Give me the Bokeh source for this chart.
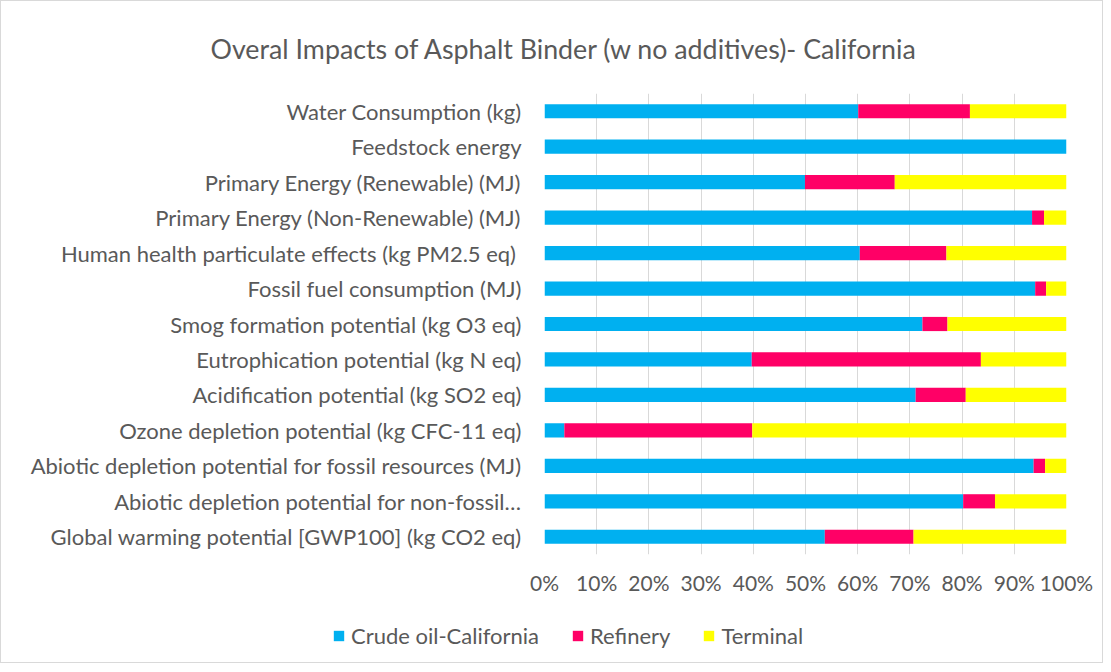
from bokeh.plotting import figure
from bokeh.layouts import column
from bokeh.models import ColumnDataSource, FixedTicker, Legend, LegendItem, Range1d, Title
from bokeh.embed import file_html
from bokeh.resources import INLINE

title_text = "Overal Impacts of Asphalt Binder (w no additives)- California"

# categories listed top to bottom as in the chart
categories = [
    "Water Consumption (kg)",
    "Feedstock energy",
    "Primary Energy (Renewable) (MJ)",
    "Primary Energy (Non-Renewable) (MJ)",
    "Human health particulate effects (kg PM2.5 eq) ",
    "Fossil fuel consumption (MJ)",
    "Smog formation potential (kg O3 eq)",
    "Eutrophication potential (kg N eq)",
    "Acidification potential (kg SO2 eq)",
    "Ozone depletion potential (kg CFC-11 eq)",
    "Abiotic depletion potential for fossil resources (MJ)",
    "Abiotic depletion potential for non-fossil\u2026",
    "Global warming potential [GWP100] (kg CO2 eq)",
]
crude = [60.1, 100.0, 49.9, 93.4, 60.4, 94.0, 72.4, 39.7, 71.1, 3.8, 93.7, 80.2, 53.7]
refinery = [21.4, 0.0, 17.2, 2.3, 16.6, 2.1, 4.8, 43.9, 9.6, 36.0, 2.2, 6.1, 17.0]
terminal = [18.5, 0.0, 32.9, 4.3, 23.0, 3.9, 22.8, 16.4, 19.3, 60.2, 4.1, 13.7, 29.3]

series = ["Crude oil-California", "Refinery", "Terminal"]
colors = ["#00B0F0", "#FF0066", "#FFFF00"]
x_ticks = [0, 10, 20, 30, 40, 50, 60, 70, 80, 90, 100]
x_tick_labels = ["0%", "10%", "20%", "30%", "40%", "50%", "60%", "70%", "80%", "90%", "100%"]

n = len(categories)
ypos = list(range(n - 1, -1, -1))  # top item gets highest position

src = ColumnDataSource(dict(
    y=ypos,
    crude=crude,
    refinery=refinery,
    terminal=terminal,
))

FONT = "Lato"
TXT = "#595959"
W = 1101

p = figure(
    width=W, height=599,
    x_range=Range1d(0, 100), y_range=Range1d(-0.5, n - 0.5),
    output_backend="svg", toolbar_location=None,
    min_border_left=543, min_border_right=36, min_border_top=92, min_border_bottom=46,
)
p.frame_align = False
p.outline_line_color = None

rs = p.hbar_stack(["crude", "refinery", "terminal"], y="y", height=0.4,
                  color=colors, source=src, line_color=None)

# axes
p.xaxis.ticker = FixedTicker(ticks=x_ticks)
p.xaxis.major_label_overrides = {t: l for t, l in zip(x_ticks, x_tick_labels)}
p.xaxis.axis_line_color = None
p.xaxis.major_tick_line_color = None
p.xaxis.minor_tick_line_color = None
p.xaxis.major_tick_out = 0
p.xaxis.major_label_standoff = 15
p.xaxis.major_label_text_font = FONT
p.xaxis.major_label_text_font_size = "21px"
p.xaxis.major_label_text_color = TXT

p.yaxis.ticker = FixedTicker(ticks=ypos)
p.yaxis.major_label_overrides = {y: c for y, c in zip(ypos, categories)}
p.yaxis.axis_line_color = None
p.yaxis.major_tick_line_color = None
p.yaxis.minor_tick_line_color = None
p.yaxis.major_tick_out = 0
p.yaxis.major_label_standoff = 23
p.yaxis.major_label_text_font = FONT
p.yaxis.major_label_text_font_size = "22px"
p.yaxis.major_label_text_color = TXT

p.xgrid.grid_line_color = "#d9d9d9"
p.xgrid.grid_line_width = 1
p.ygrid.grid_line_color = None

# title
title = Title(text=title_text, align="left", offset=-334,
              text_font=FONT, text_font_size="26.8px", text_color=TXT,
              text_font_style="normal", standoff=58)
p.add_layout(title, "above")

# legend strip below the chart (its single dummy row lies outside the visible range)
lg = figure(
    width=W, height=62,
    x_range=Range1d(0, 1), y_range=Range1d(0, 1),
    output_backend="svg", toolbar_location=None,
    min_border_left=0, min_border_right=0, min_border_top=0, min_border_bottom=0,
)
lg.frame_align = False
lg.axis.visible = False
lg.grid.grid_line_color = None
lg.outline_line_color = None
lg_src = ColumnDataSource(dict(y=[-10], left=[0], right=[0]))
lg_rs = [lg.hbar(y="y", left="left", right="right", height=0.4, color=c,
                 line_color=None, source=lg_src) for c in colors]

legend = Legend(items=[LegendItem(label=s, renderers=[r], index=0) for s, r in zip(series, lg_rs)],
                orientation="horizontal", location=(331, 13))
legend.glyph_width = 13
legend.glyph_height = 13
legend.label_standoff = 6
legend.spacing = 32
legend.padding = 0
legend.margin = 0
legend.border_line_color = None
legend.background_fill_alpha = 0
legend.label_text_font = FONT
legend.label_text_font_size = "22px"
legend.label_text_color = TXT
lg.add_layout(legend)

layout = column(p, lg, spacing=0)
layout.styles = {"border": "1px solid #d9d9d9"}

open("out.html", "w").write(file_html(layout, INLINE))
